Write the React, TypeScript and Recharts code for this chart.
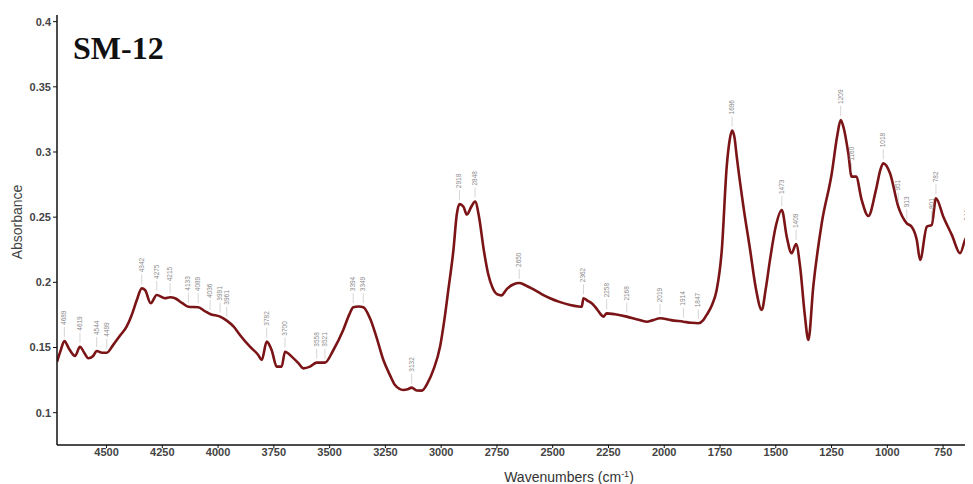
import { ComposedChart, Line, Scatter, XAxis, YAxis, Label } from 'recharts';

// FTIR spectrum of sample SM-12: [wavenumber cm-1, absorbance]
const spectrum: [number, number][] = [
  [4722, 0.139], [4705, 0.148], [4689, 0.155], [4668, 0.149], [4641, 0.1435],
  [4619, 0.1506], [4600, 0.146], [4582, 0.1417], [4560, 0.1435], [4544, 0.1473],
  [4520, 0.146], [4499, 0.146], [4470, 0.152], [4440, 0.159], [4410, 0.166],
  [4387, 0.175], [4365, 0.186], [4342, 0.1954], [4327, 0.194], [4302, 0.184],
  [4275, 0.1903], [4238, 0.1878], [4215, 0.1885], [4193, 0.1878], [4160, 0.184],
  [4133, 0.1813], [4089, 0.1809], [4060, 0.178], [4036, 0.1757], [3991, 0.1737],
  [3961, 0.1706], [3930, 0.166], [3902, 0.1596], [3857, 0.1506], [3820, 0.1443],
  [3804, 0.1404], [3782, 0.1545], [3760, 0.1481], [3737, 0.1353], [3715, 0.1353],
  [3700, 0.1468], [3670, 0.143], [3640, 0.138], [3618, 0.134], [3588, 0.1353],
  [3558, 0.1384], [3521, 0.1384], [3483, 0.1481], [3439, 0.1635], [3410, 0.176],
  [3394, 0.1809], [3370, 0.1815], [3349, 0.1809], [3319, 0.1724], [3290, 0.158],
  [3259, 0.1404], [3230, 0.129], [3207, 0.1212], [3170, 0.1174], [3150, 0.118],
  [3132, 0.1192], [3110, 0.117], [3087, 0.1169], [3060, 0.123], [3035, 0.1328],
  [3005, 0.1506], [2985, 0.172], [2968, 0.1941], [2945, 0.2248], [2930, 0.252],
  [2918, 0.26], [2900, 0.258], [2885, 0.252], [2865, 0.258], [2848, 0.262],
  [2830, 0.25], [2810, 0.226], [2790, 0.207], [2770, 0.196], [2750, 0.191],
  [2730, 0.19], [2705, 0.195], [2675, 0.1985], [2650, 0.1995], [2625, 0.198],
  [2590, 0.195], [2550, 0.191], [2512, 0.1878], [2470, 0.185], [2422, 0.1826],
  [2385, 0.1815], [2370, 0.1813], [2362, 0.1878], [2345, 0.186], [2325, 0.1839],
  [2300, 0.179], [2288, 0.1762], [2273, 0.1737], [2258, 0.1762], [2220, 0.1755],
  [2168, 0.1737], [2120, 0.1715], [2079, 0.1698], [2050, 0.171], [2019, 0.1724],
  [1970, 0.171], [1914, 0.1698], [1880, 0.169], [1847, 0.1686], [1825, 0.171],
  [1810, 0.175], [1785, 0.183], [1765, 0.1941], [1742, 0.2248], [1720, 0.2887],
  [1706, 0.31], [1696, 0.3165], [1685, 0.311], [1675, 0.2964], [1645, 0.258],
  [1615, 0.2248], [1590, 0.196], [1563, 0.1788], [1545, 0.195], [1526, 0.2172],
  [1500, 0.243], [1473, 0.2555], [1451, 0.235], [1429, 0.2223], [1409, 0.2294],
  [1391, 0.212], [1370, 0.175], [1354, 0.1558], [1332, 0.1967], [1294, 0.2453],
  [1249, 0.2837], [1225, 0.312], [1209, 0.3246], [1195, 0.318], [1175, 0.299],
  [1160, 0.2811], [1140, 0.2811], [1115, 0.2632], [1085, 0.2509], [1051, 0.2709],
  [1030, 0.287], [1018, 0.2913], [988, 0.2837], [951, 0.2581], [913, 0.2453],
  [891, 0.2427], [868, 0.2325], [853, 0.2172], [823, 0.2427], [801, 0.244],
  [782, 0.2645], [749, 0.2504], [710, 0.236], [674, 0.2223], [644, 0.235],
  [616, 0.2248],
];

// peaks that carry a pick label on the scan
const peakPicks = [
  4689, 4619, 4544, 4499, 4342, 4275, 4215, 4133, 4089, 4036, 3991, 3961,
  3782, 3700, 3558, 3521, 3394, 3349, 3132, 2918, 2848, 2650, 2362, 2258,
  2168, 2019, 1914, 1847, 1696, 1473, 1409, 1209, 1160, 1018, 951, 913, 801, 782, 644,
];

const xTicks = [4500, 4250, 4000, 3750, 3500, 3250, 3000, 2750, 2500, 2250, 2000, 1750, 1500, 1250, 1000, 750];
const yTicks = [0.1, 0.15, 0.2, 0.25, 0.3, 0.35, 0.4];

const lineData = spectrum.map(([w, a]) => ({ w, a }));
const peakData = peakPicks.map(w => {
  const hit = spectrum.find(s => s[0] === w);
  return { w, a: hit ? hit[1] : 0, label: String(w) };
});

const tickStyle = { fontSize: 11, fontWeight: 'bold', fill: '#444', fontFamily: '"Liberation Sans", Arial, sans-serif' };

function PeakTag(props: any) {
  const { cx, cy, payload } = props;
  if (cx == null || cy == null) return null;
  const top = cy - 16;
  return (
    <g>
      <line x1={cx} y1={cy - 4} x2={cx} y2={top + 2} stroke="#bbb" strokeWidth={0.6} />
      <text
        x={cx + 2}
        y={top}
        transform={`rotate(-90 ${cx + 2} ${top})`}
        fontSize={6.5}
        fill="#8a8a8a"
        fontFamily='"Liberation Sans", Arial, sans-serif'
      >
        {payload.label}
      </text>
    </g>
  );
}

const XTitle = () => (
  <text x={561} y={474} textAnchor="middle" fontSize={14} fill="#333" fontFamily='"Liberation Sans", Arial, sans-serif'>
    <tspan>Wavenumbers (cm</tspan>
    <tspan dy={-5} fontSize={9}>-1</tspan>
    <tspan dy={5}>)</tspan>
  </text>
);

const YTitle = () => (
  <text
    x={14}
    y={214}
    transform="rotate(-90 14 214)"
    textAnchor="middle"
    fontSize={14}
    fill="#444"
    fontFamily='"Liberation Sans", Arial, sans-serif'
  >
    Absorbance
  </text>
);

export default function App() {
  return (
    <div style={{ position: 'relative', width: 965, height: 476 }}>
      <ComposedChart width={965} height={476} margin={{ top: 7, right: 0, bottom: 9, left: 9 }}>
        <XAxis
          dataKey="w"
          type="number"
          domain={[616, 4722]}
          reversed
          allowDataOverflow
          ticks={xTicks}
          tick={tickStyle}
          tickSize={3}
          tickMargin={0}
          height={30}
          axisLine={{ stroke: '#111', strokeWidth: 1.5 }}
          tickLine={{ stroke: '#111' }}
        >
          <Label content={<XTitle />} />
        </XAxis>
        <YAxis
          type="number"
          domain={[0.0752, 0.4051]}
          allowDataOverflow
          ticks={yTicks}
          tickFormatter={(v: number) => String(v)}
          tick={tickStyle}
          tickSize={4}
          tickMargin={2}
          width={40}
          axisLine={{ stroke: '#111', strokeWidth: 1.5 }}
          tickLine={{ stroke: '#111' }}
        >
          <Label content={<YTitle />} />
        </YAxis>
        <Scatter data={peakData} dataKey="a" shape={<PeakTag />} isAnimationActive={false} />
        <Line
          data={lineData}
          dataKey="a"
          type="monotone"
          stroke="#7a1416"
          strokeWidth={2.6}
          dot={false}
          activeDot={false}
          isAnimationActive={false}
        />
      </ComposedChart>
      <div
        style={{
          position: 'absolute',
          left: 65,
          top: 24,
          fontFamily: '"Liberation Serif", "Times New Roman", serif',
          fontWeight: 'bold',
          fontSize: 32,
          lineHeight: '32px',
          color: '#111',
        }}
      >
        SM-12
      </div>
    </div>
  );
}
